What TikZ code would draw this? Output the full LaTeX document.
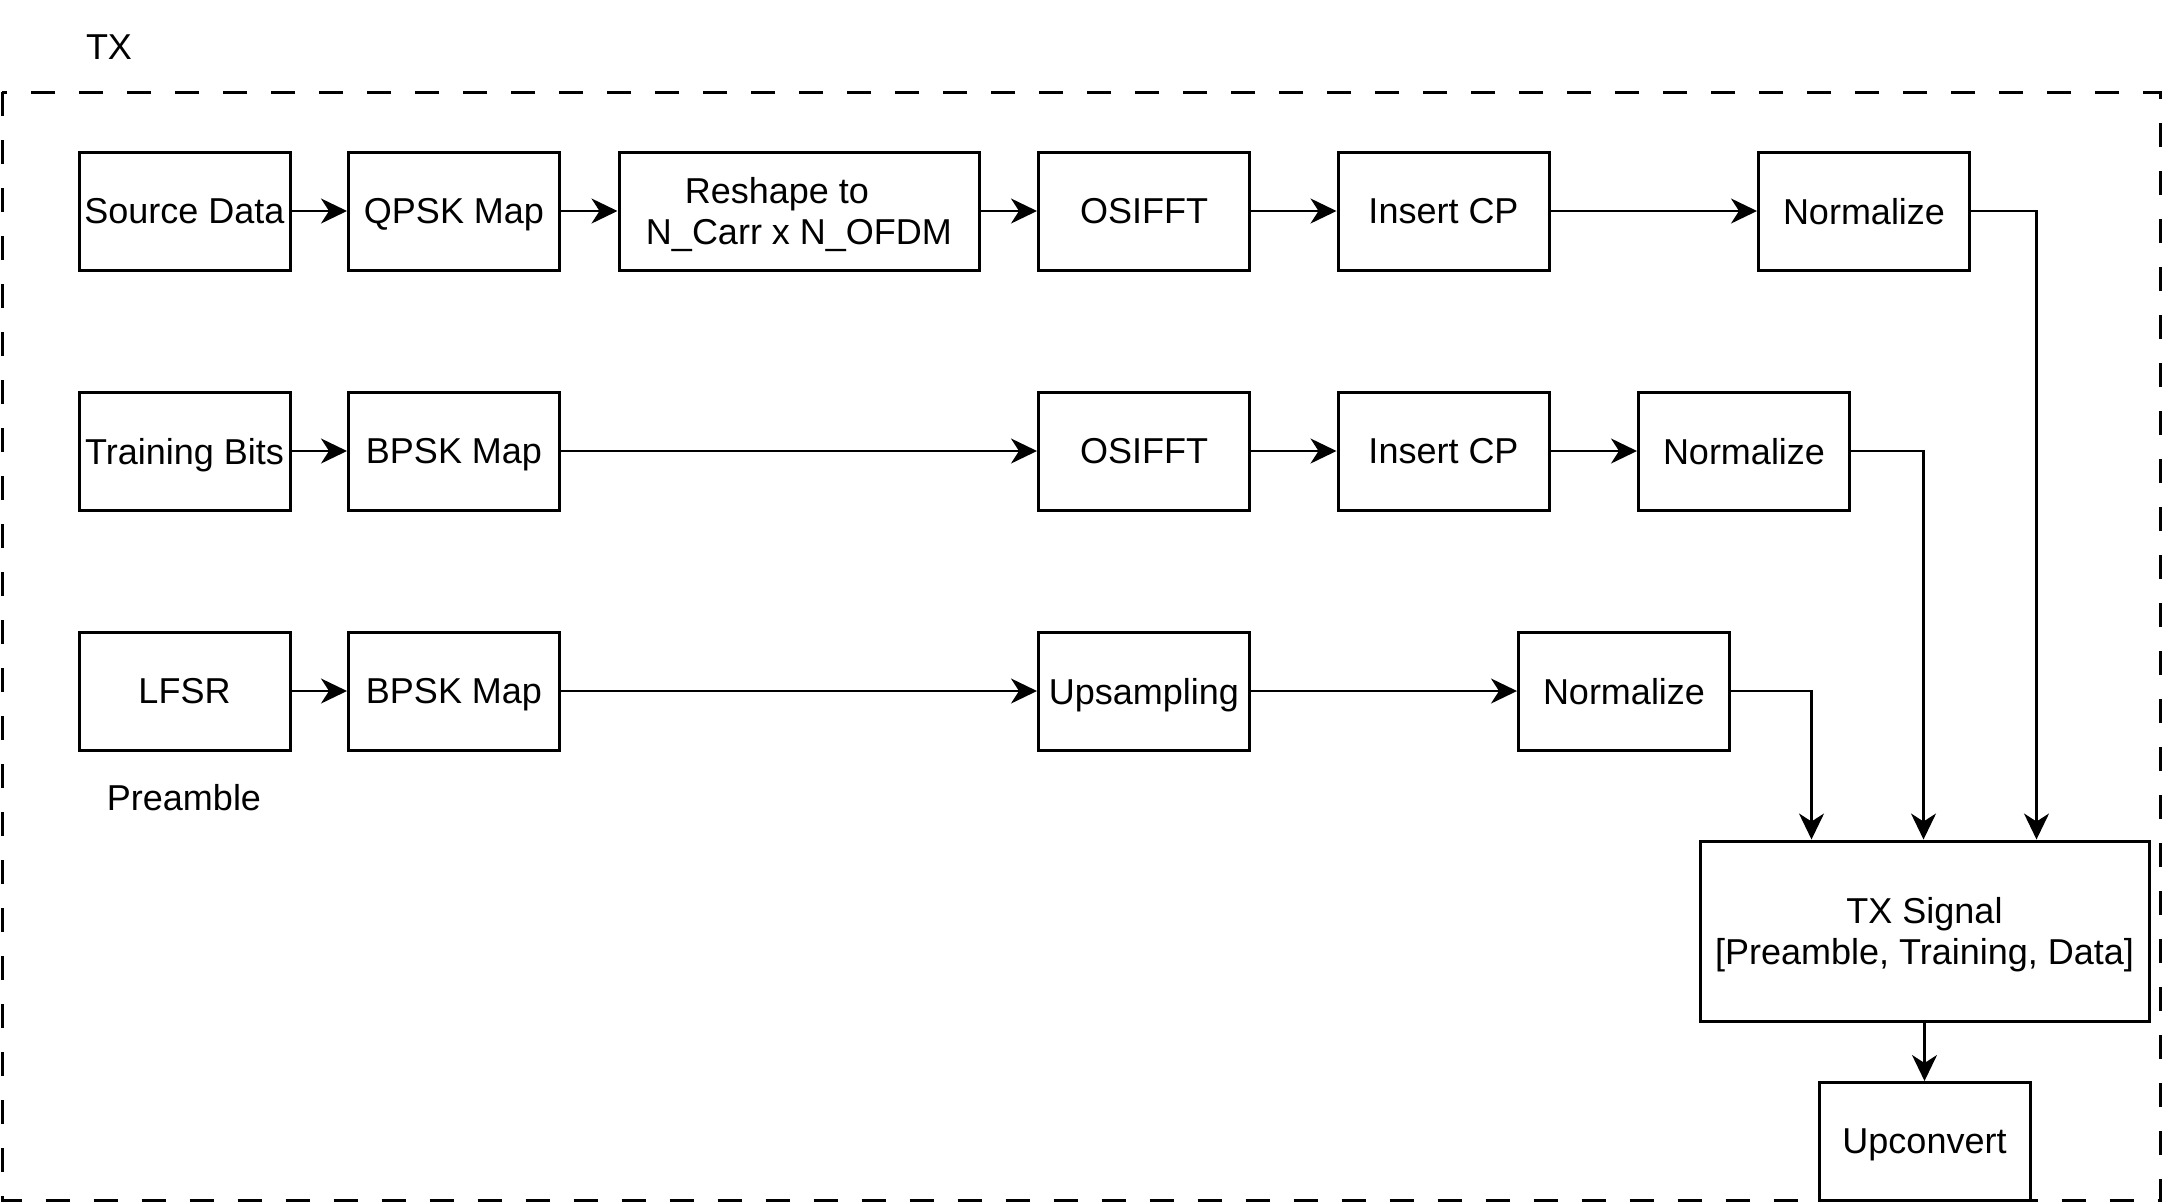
\documentclass[tikz,border=0pt]{standalone}
\usepackage{fontspec}
\setmainfont{Liberation Sans}
\usetikzlibrary{arrows.meta,calc}
\begin{document}
\begin{tikzpicture}[x=1pt,y=-1pt,
 blk/.style={draw,line width=3pt,minimum width=211pt,minimum height=118pt,inner sep=0pt,align=center,text depth=0pt,font=\fontsize{36}{41}\selectfont},
 lbl/.style={font=\fontsize{36}{41}\selectfont,inner sep=0pt,text depth=0pt},
 arr/.style={line width=2.2pt,-{Stealth[length=26pt,width=25pt,inset=8pt]}},
 framebox/.style={line width=3pt,dash pattern=on 24pt off 24pt}]
\useasboundingbox (0,0) rectangle (2163,1203);
\draw[framebox] (2,92) rectangle (2160,1200.5);
\node[lbl] (txlbl) at (109,47) {TX};
% row 1
\node[blk] (src) at (184.5,211) {Source Data};
\node[blk] (qpsk) at (454,211) {QPSK Map};
\node[blk,minimum width=360pt] (resh) at (799,211) {Reshape to\hspace*{44pt}\\N\_Carr x N\_OFDM};
\node[blk] (ifft1) at (1144,211) {OSIFFT};
\node[blk] (cp1) at (1443.5,211) {Insert CP};
\node[blk] (norm1) at (1864,211) {Normalize};
% row 2
\node[blk] (trn) at (184.5,451) {Training Bits};
\node[blk] (bpsk2) at (454,451) {BPSK Map};
\node[blk] (ifft2) at (1144,451) {OSIFFT};
\node[blk] (cp2) at (1443.5,451) {Insert CP};
\node[blk] (norm2) at (1744,451) {Normalize};
% row 3
\node[blk] (lfsr) at (184.5,691) {LFSR};
\node[blk] (bpsk3) at (454,691) {BPSK Map};
\node[blk] (ups) at (1144,691) {Upsampling};
\node[blk] (norm3) at (1624,691) {Normalize};
\node[lbl] (pre) at (184,797) {Preamble};
% output
\node[blk,minimum width=449pt,minimum height=180pt] (txs) at (1924.5,931) {TX Signal\\{}[Preamble, Training, Data]};
\node[blk] (upc) at (1924.5,1141.5) {Upconvert};
% connectors
\draw[arr] (src) -- (qpsk);
\draw[arr] (qpsk) -- (resh);
\draw[arr] (resh) -- (ifft1);
\draw[arr] (ifft1) -- (cp1);
\draw[arr] (cp1) -- (norm1);
\draw[arr] (trn) -- (bpsk2);
\draw[arr] (bpsk2) -- (ifft2);
\draw[arr] (ifft2) -- (cp2);
\draw[arr] (cp2) -- (norm2);
\draw[arr] (lfsr) -- (bpsk3);
\draw[arr] (bpsk3) -- (ups);
\draw[arr] (ups) -- (norm3);
\draw[arr] (norm1.east) -| ([xshift=112pt]txs.north);
\draw[arr] (norm2.east) -| ([xshift=-1pt]txs.north);
\draw[arr] (norm3.east) -| ([xshift=-113pt]txs.north);
\draw[arr] (txs) -- (upc);
\end{tikzpicture}
\end{document}
